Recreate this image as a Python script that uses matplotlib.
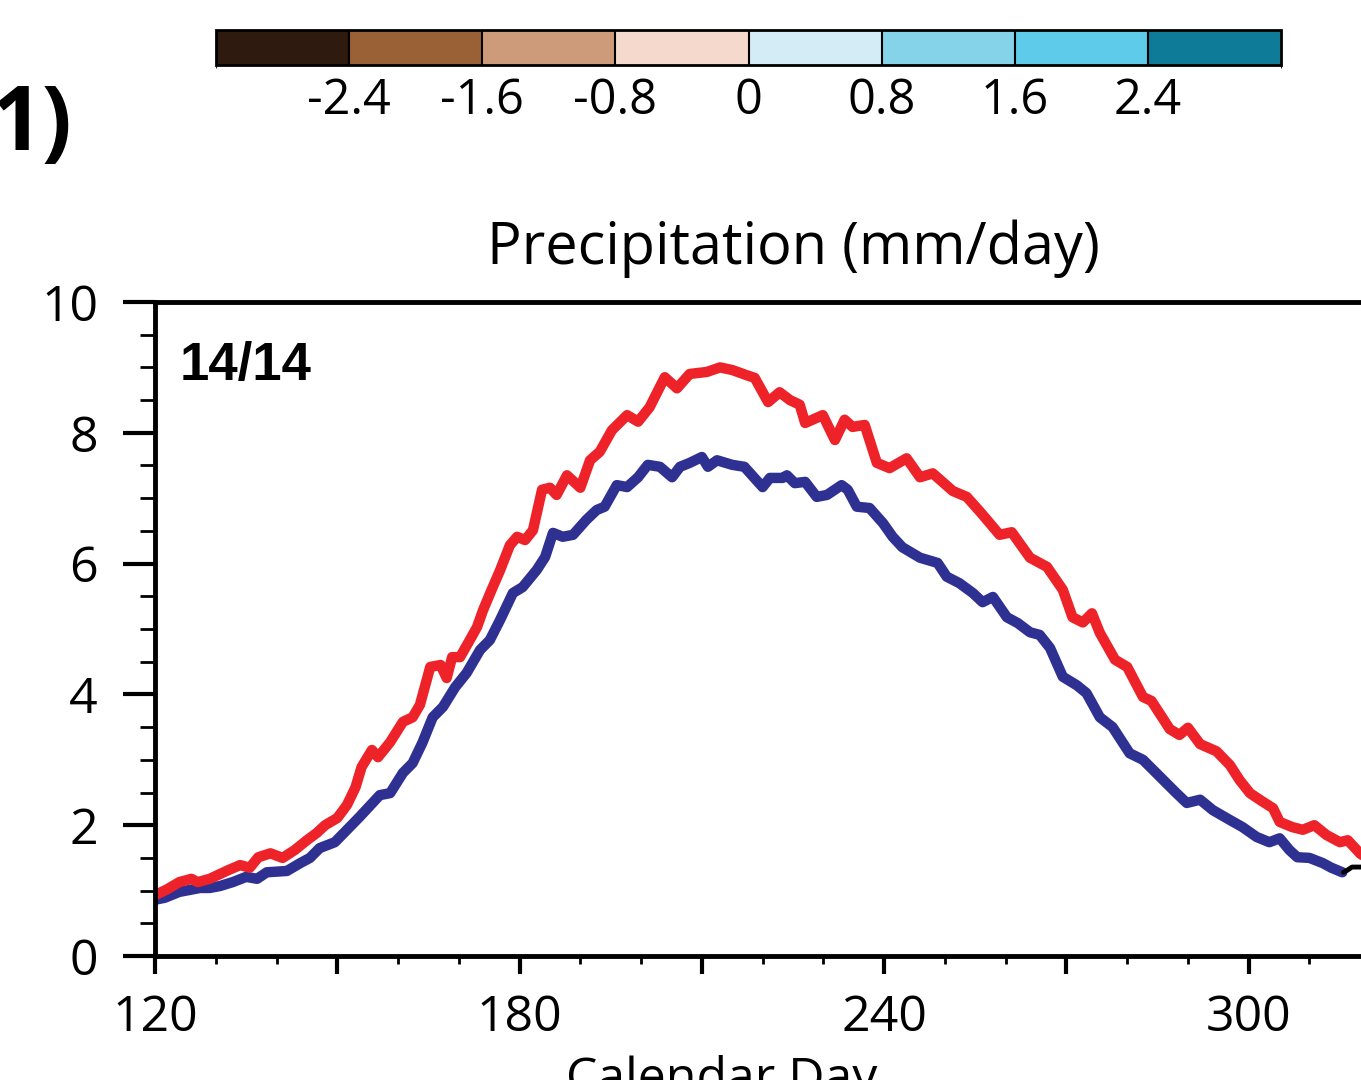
import matplotlib as mpl
import matplotlib.pyplot as plt
from matplotlib.colors import ListedColormap, BoundaryNorm

plt.rcParams['font.family'] = ['Open Sans', 'DejaVu Sans']

# red series (calendar day, mm/day)
red_day = [120, 122, 124, 126, 127, 129, 132, 134, 135.6, 137, 139, 141, 143, 145, 146.6,
           148, 150, 151.6, 153, 154, 155.7, 156.7, 158.7, 160.8, 162.4, 163.6, 165.3, 167,
           168, 168.9, 170.2, 171.8, 173, 174, 175.4, 176.8, 178.4, 179.6, 180.9, 182.2,
           183.7, 185, 186.1, 187.8, 190, 191.6, 193.2, 195.2, 197.7, 199.5, 201.4, 203.9,
           205.9, 208, 210.8, 213, 215, 217.4, 218.7, 220.9, 222.8, 224.5, 226.1, 227, 229.9,
           231.9, 233.5, 234.8, 236.8, 238.8, 240.9, 243.7, 245.9, 248, 251.3, 253.6, 256,
           259, 261, 264, 266.8, 269.4, 271, 272.7, 274.2, 275.5, 278, 280, 282.6, 284, 287,
           288.6, 290, 292, 294.7, 296.9, 298.5, 300.2, 302.3, 304, 305.1, 307.2, 308.9,
           310.8, 312.8, 315, 316.3, 318.3, 320]
red_val = [0.93, 1.02, 1.13, 1.18, 1.13, 1.18, 1.31, 1.39, 1.35, 1.51, 1.57, 1.50, 1.62, 1.77, 1.88,
           2.00, 2.11, 2.31, 2.58, 2.89, 3.15, 3.04, 3.27, 3.58, 3.65, 3.84, 4.42, 4.45,
           4.25, 4.57, 4.57, 4.83, 5.03, 5.29, 5.60, 5.90, 6.28, 6.41, 6.36, 6.51,
           7.13, 7.16, 7.05, 7.35, 7.16, 7.58, 7.71, 8.04, 8.27, 8.17, 8.39, 8.85,
           8.68, 8.90, 8.93, 9.00, 8.96, 8.88, 8.84, 8.47, 8.62, 8.50, 8.43, 8.15, 8.27,
           7.89, 8.20, 8.09, 8.12, 7.54, 7.46, 7.61, 7.32, 7.38, 7.11, 7.02, 6.77,
           6.44, 6.48, 6.09, 5.95, 5.60, 5.18, 5.10, 5.24, 4.94, 4.53, 4.42, 3.96, 3.90, 3.47,
           3.38, 3.49, 3.24, 3.13, 2.92, 2.69, 2.49, 2.36, 2.26, 2.05, 1.97, 1.93,
           2.00, 1.85, 1.74, 1.77, 1.57, 1.45]

# blue series
blue_day = [120, 121.6, 124, 127.4, 129, 130.7, 132.8, 135, 136.8, 138.4, 141.7, 143.9, 145.5,
            147.1, 149.6, 151.6, 153.7, 157, 158.7, 160.8, 162.4, 164, 165.7, 167.4, 169.4,
            171.3, 173.5, 175.1, 176.8, 178.9, 180.5, 182.8, 184.2, 185.5, 187.1, 188.8, 191,
            192.7, 194, 196, 197.7, 199.5, 201.1, 203.1, 205.1, 206.4, 208, 210, 211, 212.5,
            215, 217, 220, 221.2, 223.3, 224, 225.3, 227, 228.9, 230.6, 233, 234, 235.5,
            237.6, 239.8, 241.4, 243, 245.9, 248.8, 250.3, 252.4, 254.6, 256.2, 257.9, 260.2,
            262, 264, 265.6, 267.3, 269.4, 271.7, 273.3, 275.5, 277.6, 280.4, 282.6, 285.3,
            288.1, 289.8, 292, 294.1, 296.9, 299, 301.3, 303.4, 305.1, 306.7, 308, 310,
            312.2, 313.6, 315.4]
blue_val = [0.86, 0.89, 0.98, 1.04, 1.04, 1.07, 1.13, 1.21, 1.18, 1.28, 1.30, 1.42, 1.50,
            1.65, 1.74, 1.93, 2.13, 2.46, 2.49, 2.80, 2.95, 3.26, 3.65, 3.81, 4.11,
            4.33, 4.68, 4.83, 5.14, 5.55, 5.64, 5.90, 6.10, 6.47, 6.41, 6.44, 6.67,
            6.82, 6.87, 7.20, 7.17, 7.32, 7.51, 7.48, 7.32, 7.48, 7.54, 7.63, 7.48, 7.58,
            7.51, 7.48, 7.17, 7.31, 7.31, 7.35, 7.23, 7.25, 7.02, 7.05, 7.20, 7.13, 6.87,
            6.85, 6.62, 6.41, 6.25, 6.09, 6.01, 5.80, 5.70, 5.55, 5.41, 5.49, 5.18,
            5.09, 4.95, 4.91, 4.71, 4.27, 4.14, 4.02, 3.65, 3.50, 3.10, 3.00, 2.75,
            2.49, 2.34, 2.39, 2.23, 2.08, 1.97, 1.82, 1.74, 1.80, 1.62, 1.51, 1.50,
            1.42, 1.35, 1.28]

# black series (only its start is visible)
black_day = [315.6, 316.2, 317, 320]
black_val = [1.28, 1.31, 1.36, 1.36]

cbar_colors = ['#2e1a0e', '#9a6136', '#cd9a7a', '#f5d9cc',
               '#d4ecf5', '#84d3e8', '#5fcbea', '#0e7b98']
cbar_bounds = [-3.2, -2.4, -1.6, -0.8, 0, 0.8, 1.6, 2.4, 3.2]
cbar_ticks = [-2.4, -1.6, -0.8, 0, 0.8, 1.6, 2.4]
cbar_labels = ['-2.4', '-1.6', '-0.8', '0', '0.8', '1.6', '2.4']

W, H = 1361, 1080


def box(x0, y0, x1, y1):
    return [x0 / W, 1 - y1 / H, (x1 - x0) / W, (y1 - y0) / H]


fig = plt.figure(figsize=(W / 100, H / 100), dpi=100)

ax = fig.add_axes(box(155, 302, 1431, 956))
ax.plot(blue_day, blue_val, color='#2e3192', lw=7.5, solid_joinstyle='round', solid_capstyle='round')
ax.plot(red_day, red_val, color='#ee2229', lw=7.5, solid_joinstyle='round', solid_capstyle='round')
ax.plot(black_day, black_val, color='black', lw=3.5, solid_capstyle='round')
ax.set_xlim(120, 330)
ax.set_ylim(0, 10)

ax.set_xticks(range(120, 331, 30), labels=['120', '', '180', '', '240', '', '300', ''])
ax.set_xticks(range(120, 331, 10), minor=True)
ax.set_yticks(range(0, 11, 2))
ax.set_yticks([v / 2 for v in range(0, 21)], minor=True)
ax.tick_params(axis='y', which='major', direction='out', length=23, width=3, labelsize=36, pad=18)
ax.tick_params(axis='y', which='minor', direction='out', length=11, width=2)
ax.tick_params(axis='x', which='major', direction='out', length=13, width=3, labelsize=36, pad=14)
ax.tick_params(axis='x', which='minor', direction='out', length=6, width=2)
for s in ['left', 'bottom', 'top']:
    ax.spines[s].set_linewidth(3.5)
ax.spines['right'].set_visible(False)

ax.set_title('Precipitation (mm/day)', fontsize=41.5, pad=27)
fig.text(180 / W, 1 - 380 / H, '14/14', fontsize=38, fontweight='bold',
         family=['Liberation Sans', 'DejaVu Sans'], ha='left', va='baseline')
fig.text(722 / W, 1 - 1093 / H, 'Calendar Day', fontsize=36, ha='center', va='baseline')
fig.text(72 / W, 1 - 150 / H, '1)', fontsize=64, fontweight='bold', ha='right', va='baseline')

# colour bar
cax = fig.add_axes(box(216, 30, 1281, 65))
cmap = ListedColormap(cbar_colors)
norm = BoundaryNorm(cbar_bounds, cmap.N)
cb = fig.colorbar(mpl.cm.ScalarMappable(norm=norm, cmap=cmap), cax=cax,
                  orientation='horizontal', drawedges=True, ticks=cbar_ticks)
cb.ax.set_xticklabels(cbar_labels)
cb.ax.tick_params(length=0, labelsize=35, pad=8)
cb.outline.set_linewidth(2)
cb.dividers.set_linewidth(1.5)

fig.savefig('out.png', dpi=100)
